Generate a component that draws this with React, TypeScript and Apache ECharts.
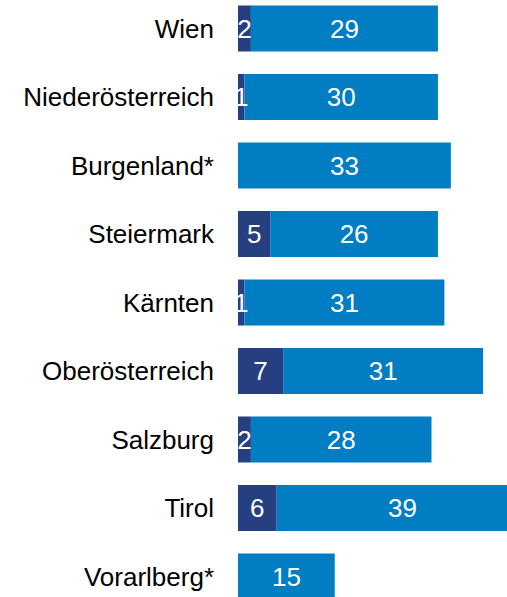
import React, { useEffect, useRef } from "react";
import * as echarts from "echarts";

const categories = [
  "Wien",
  "Niederösterreich",
  "Burgenland*",
  "Steiermark",
  "Kärnten",
  "Oberösterreich",
  "Salzburg",
  "Tirol",
  "Vorarlberg*",
];
const darkValues = [2, 1, 0, 5, 1, 7, 2, 6, 0];
const blueValues = [29, 30, 33, 26, 31, 31, 28, 39, 15];

export default function App() {
  const ref = useRef<HTMLDivElement>(null);
  useEffect(() => {
    if (!ref.current) return;
    const chart = echarts.init(ref.current, undefined, { renderer: "svg" });
    const labelFmt = (p: any) => (p.value === 0 ? "" : String(p.value));
    const font = "Liberation Sans, Arial, sans-serif";
    chart.setOption({
      animation: false,
      grid: { left: 238, top: 4.25, width: 322.5, height: 616.5, containLabel: false },
      xAxis: {
        type: "value",
        min: 0,
        max: 50,
        show: false,
        splitLine: { show: false },
      },
      yAxis: {
        type: "category",
        data: categories,
        inverse: true,
        axisLine: { show: false },
        axisTick: { show: false },
        axisLabel: {
          margin: 24,
          color: "#000",
          fontSize: 26,
          fontFamily: font,
        },
      },
      series: [
        {
          type: "bar",
          stack: "total",
          data: darkValues,
          barWidth: 46,
          itemStyle: { color: "#263F80" },
          label: {
            show: true,
            position: "inside",
            formatter: labelFmt,
            color: "#fff",
            fontSize: 26,
            fontFamily: font,
          },
        },
        {
          type: "bar",
          stack: "total",
          data: blueValues,
          barWidth: 46,
          itemStyle: { color: "#007DC3" },
          label: {
            show: true,
            position: "inside",
            formatter: labelFmt,
            color: "#fff",
            fontSize: 26,
            fontFamily: font,
          },
        },
      ],
    });
    return () => chart.dispose();
  }, []);
  return (
    <div
      style={{
        position: "fixed",
        left: 0,
        top: 0,
        width: 507,
        height: 597,
        overflow: "hidden",
        background: "#fff",
      }}
    >
      <div
        ref={ref}
        style={{ position: "absolute", left: 0, top: -10, width: 580, height: 640 }}
      />
    </div>
  );
}
